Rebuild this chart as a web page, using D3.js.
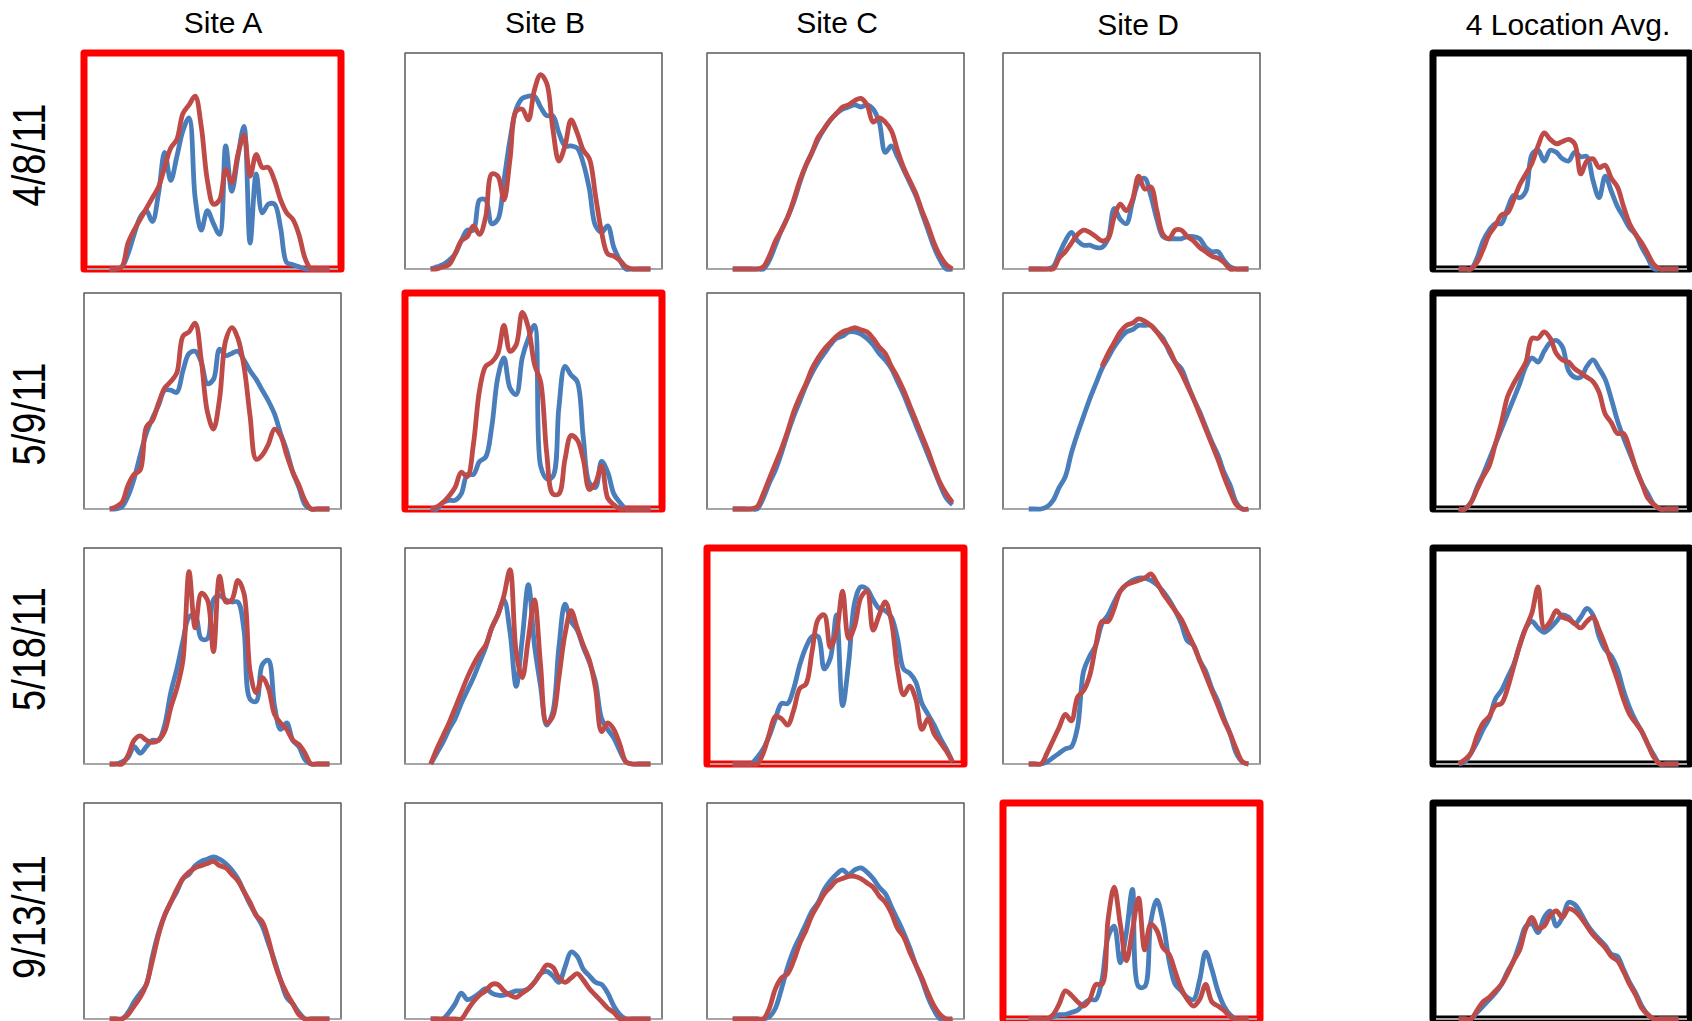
<!DOCTYPE html>
<html lang="en">
<head>
<meta charset="UTF-8" />
<title>Site comparison</title>
<style>
  body { margin: 0; background: #fff; }
  svg { display: block; font-family: "Liberation Sans", Arial, sans-serif; }
</style>
</head>
<body>
<svg width="1692" height="1021"></svg>
<script src="https://d3js.org/d3.v7.min.js"></script>
<script>
// labels
const sites = ["Site A", "Site B", "Site C", "Site D", "4 Location Avg."];
const dates = ["4/8/11", "5/9/11", "5/18/11", "9/13/11"];
const highlighted = ["Site A", "Site B", "Site C", "Site D"]; // one per date

// 37 time slots per day, values in % of panel height (blue = series 1, red = series 2)
const A_0408_blue = [0,0,1,7,16,24,27,22,35,54,41,52,64,70,33,18,27,21,16,57,36,52,66,12,44,26,30,30,19,3,2,1,0,0,0,0,0];
const A_0408_red  = [0,0,1,12,18,23,28,33,38,47,56,60,72,76,80,66,41,30,32,46,40,53,62,43,53,47,47,41,32,26,23,16,5,0,0,0,0];
const B_0408_blue = [0,1,2,4,7,13,18,18,32,32,21,23,41,60,74,79,80,80,75,71,71,63,57,57,56,49,37,20,17,20,10,4,0,0,0,0,0];
const B_0408_red  = [0,0,1,2,7,13,15,20,16,24,44,43,32,51,73,74,69,83,90,86,65,50,57,69,63,55,51,34,17,7,6,4,1,0,0,0,0];
const C_0408_blue = [0,0,0,0,0,0,4,11,18,24,31,40,48,54,60,65,69,72,74,75,76,75,76,74,68,54,57,52,46,40,34,26,18,10,4,0,0];
const C_0408_red  = [0,0,0,0,0,1,6,13,18,24,32,41,48,54,61,65,69,72,75,76,78,79,76,68,70,68,64,55,47,41,35,27,20,12,6,2,0];
const D_0408_blue = [0,0,0,0,1,7,13,17,13,11,11,10,10,14,28,23,21,31,40,42,34,23,15,14,14,14,15,15,14,10,8,8,4,1,0,0,0];
const D_0408_red  = [0,0,0,0,0,5,8,12,16,18,17,15,13,14,24,30,27,32,43,37,38,27,16,14,18,18,15,13,10,8,6,5,3,0,0,0,0];
const Avg_0408_blue = [0,0,0,5,13,18,21,21,28,34,33,36,53,55,50,55,54,51,50,54,52,52,41,33,43,36,29,24,19,16,10,5,0,0,0,0,0];
const Avg_0408_red  = [0,0,0,3,9,16,20,25,26,32,39,44,49,57,63,60,58,59,60,58,44,50,51,47,48,42,38,29,21,16,12,7,2,0,0,0,0];

const A_0509_blue = [0,0,1,6,14,25,35,42,48,55,55,54,64,72,73,68,58,60,74,71,72,73,69,64,60,55,50,44,35,27,17,10,2,0,0,0,0];
const A_0509_red  = [0,1,3,11,16,18,38,41,49,56,59,63,80,82,86,69,45,37,51,78,84,79,66,43,23,25,30,37,34,25,17,11,4,0,0,0,0];
const B_0509_blue = [0,0,3,4,4,7,16,16,22,24,38,61,70,56,53,70,79,85,20,14,15,47,66,62,59,33,12,10,22,17,7,3,0,0,0,0,0];
const B_0509_red  = [0,1,3,6,10,17,15,30,55,66,68,72,85,73,76,91,84,67,59,26,7,7,23,34,32,23,9,12,20,5,2,0,0,0,0,0,0];
const C_0509_blue = [0,0,0,0,0,5,12,18,26,35,43,50,57,63,68,72,76,79,80,82,82,81,79,76,72,69,65,59,53,46,39,32,25,18,11,5,2];
const C_0509_red  = [0,0,0,0,1,7,14,21,28,36,45,52,58,65,70,74,77,80,82,83,84,83,82,79,75,72,66,61,55,48,41,34,27,19,12,7,3];
const D_0509_blue = [0,0,0,1,4,10,15,26,35,43,51,58,65,70,75,79,82,83,85,85,85,82,79,73,68,65,58,51,45,38,31,25,17,11,3,0,0];
const D_0509_red  = [null,null,null,null,null,null,null,null,null,null,null,null,66,72,77,82,85,86,88,87,85,82,78,74,68,63,57,51,44,37,30,23,15,8,2,0,0];
const Avg_0509_blue = [0,0,3,10,16,23,30,37,44,51,58,66,70,68,73,77,78,75,64,61,61,66,69,65,60,51,41,33,26,19,12,7,2,0,0,0,0];
const Avg_0509_red  = [0,0,3,9,15,20,30,40,52,58,63,68,79,79,82,79,72,69,68,65,63,61,59,54,44,40,35,35,28,19,12,5,2,0,0,0,0];

const A_0518_blue = [0,0,1,3,8,5,8,11,11,18,33,44,57,68,69,58,58,76,78,76,75,75,62,30,29,46,48,27,16,19,11,8,2,0,0,0,0];
const A_0518_red  = [0,0,0,4,11,13,11,10,11,15,26,35,48,89,63,79,76,52,87,75,76,85,79,43,33,40,35,23,19,16,11,9,5,0,0,0,0];
const B_0518_blue = [0,5,10,16,21,28,34,40,47,54,63,69,76,61,36,58,83,55,36,18,24,54,74,66,62,54,47,38,21,16,12,6,1,0,0,0,0];
const B_0518_red  = [0,7,13,19,26,33,40,46,51,55,63,69,78,90,52,40,58,76,46,19,22,40,60,71,63,55,48,35,15,19,16,9,1,0,0,0,0];
const C_0518_blue = [0,0,0,0,3,7,13,21,28,28,35,46,54,59,59,44,49,69,27,47,75,82,81,76,72,71,68,58,44,42,38,28,23,18,12,7,1];
const C_0518_red  = [0,0,0,0,0,5,14,22,21,18,25,35,37,52,67,69,54,61,80,58,64,77,80,62,69,75,66,44,32,36,30,16,21,14,10,6,1];
const D_0518_blue = [0,0,0,1,3,5,7,8,17,43,50,55,65,69,75,80,83,85,86,86,85,83,80,76,71,65,57,55,48,43,35,29,21,14,5,1,0];
const D_0518_red  = [0,0,0,5,11,17,23,20,31,34,41,55,66,66,72,80,83,84,85,86,88,84,79,75,71,67,61,55,48,41,34,27,20,14,7,1,0];
const Avg_0518_blue = [0,1,5,10,16,21,30,34,40,46,55,63,66,63,61,63,66,69,68,65,68,72,69,59,53,50,44,34,26,20,15,9,4,0,0,0,0];
const Avg_0518_red  = [0,2,5,13,19,22,27,28,35,45,55,63,70,82,63,66,71,68,67,65,63,66,68,62,55,47,39,30,23,19,15,9,3,0,0,0,0];

const A_0913_blue = [0,0,0,3,8,12,16,29,40,48,54,59,65,67,71,73,74,75,74,72,69,65,59,53,48,43,35,27,18,10,7,3,0,0,0,0,0];
const A_0913_red  = [0,0,0,2,6,10,16,27,39,48,54,60,65,68,70,71,72,73,71,70,67,64,59,54,48,45,37,26,18,12,7,2,0,0,0,0,0];
const B_0913_blue = [0,0,0,3,7,12,9,10,12,14,12,11,11,12,13,13,14,17,21,22,20,17,24,31,29,23,20,17,16,12,6,2,0,0,0,0,0];
const B_0913_red  = [0,0,0,0,0,0,4,8,11,13,16,16,13,11,10,12,14,17,21,25,24,19,17,19,21,18,14,11,8,5,3,0,0,0,0,0,0];
const C_0913_blue = [0,0,0,0,0,0,1,5,14,24,32,38,44,50,54,60,64,67,69,67,69,70,68,65,61,58,52,46,40,33,25,18,10,4,0,0,0];
const C_0913_red  = [0,0,0,0,0,0,5,14,19,21,27,35,41,48,53,58,61,64,65,66,66,65,63,61,57,54,49,42,38,31,25,19,12,6,2,0,0];
const D_0913_blue = [0,0,0,0,1,2,2,3,4,7,9,9,18,38,43,26,40,60,15,15,45,55,45,27,16,13,10,9,18,31,23,13,6,2,0,0,0];
const D_0913_red  = [0,0,0,0,2,7,13,11,8,6,9,16,16,46,61,44,27,41,56,32,44,41,33,30,22,14,9,6,9,16,8,6,4,1,0,0,0];
const Avg_0913_blue = [0,0,0,3,6,9,12,16,22,27,35,43,44,40,47,50,43,47,54,53,49,44,40,37,34,30,29,23,17,12,6,2,0,0,0,0,0];
const Avg_0913_red  = [0,0,0,4,8,10,13,16,21,27,32,42,47,42,43,48,50,47,51,50,47,43,39,36,33,29,27,22,16,11,5,2,0,0,0,0,0];

const grid = [
  [[A_0408_blue, A_0408_red], [B_0408_blue, B_0408_red], [C_0408_blue, C_0408_red], [D_0408_blue, D_0408_red], [Avg_0408_blue, Avg_0408_red]],
  [[A_0509_blue, A_0509_red], [B_0509_blue, B_0509_red], [C_0509_blue, C_0509_red], [D_0509_blue, D_0509_red], [Avg_0509_blue, Avg_0509_red]],
  [[A_0518_blue, A_0518_red], [B_0518_blue, B_0518_red], [C_0518_blue, C_0518_red], [D_0518_blue, D_0518_red], [Avg_0518_blue, Avg_0518_red]],
  [[A_0913_blue, A_0913_red], [B_0913_blue, B_0913_red], [C_0913_blue, C_0913_red], [D_0913_blue, D_0913_red], [Avg_0913_blue, Avg_0913_red]]
];

// layout
const w = 257, h = 216;
const colX = [84, 405, 707, 1003, 1433];
const rowY = [53, 293, 548, 803];
const headX = [223, 545, 837, 1138, 1568];
const headY = [33, 33, 33, 35, 35];
const labelY = [155, 414, 649, 917];
const blue = "#4a7ebb", red = "#be4b48";

const svg = d3.select("svg");

// column headers
svg.selectAll(".site")
  .data(sites)
  .enter()
  .append("text")
  .attr("class", "site")
  .attr("x", (d, i) => headX[i])
  .attr("y", (d, i) => headY[i])
  .attr("text-anchor", "middle")
  .attr("font-size", 30)
  .text((d) => d);

// row labels (glyphs a bit taller than normal in the original)
svg.selectAll(".date")
  .data(dates)
  .enter()
  .append("text")
  .attr("class", "date")
  .attr("transform", (d, i) => `translate(45,${labelY[i]}) rotate(-90) scale(1,1.2)`)
  .attr("text-anchor", "middle")
  .attr("font-size", 38)
  .text((d) => d);

const x = d3.scaleLinear().domain([0, 36]).range([0.1 * w, 0.955 * w]);
const y = d3.scaleLinear().domain([0, 100]).range([h, 0]);

const line = d3
  .line()
  .defined((d) => d != null)
  .x((d, i) => x(i))
  .y((d) => y(d))
  .curve(d3.curveCatmullRom.alpha(0.5));

grid.forEach((row, r) => {
  row.forEach((pair, c) => {
    const g = svg.append("g").attr("transform", `translate(${colX[c]},${rowY[r]})`);
    const isAvg = c === 4;
    const isHi = highlighted[r] === sites[c];

    g.append("rect")
      .attr("width", w)
      .attr("height", h)
      .attr("fill", "none")
      .attr("stroke-linejoin", "round")
      .attr("stroke", isAvg ? "#000" : isHi ? "#ff0000" : "#595959")
      .attr("stroke-width", isAvg || isHi ? 7 : 1.5);

    // x axis line
    g.append("line")
      .attr("x1", isAvg || isHi ? 3 : 0)
      .attr("x2", isAvg || isHi ? w - 3 : w)
      .attr("y1", h)
      .attr("y2", h)
      .attr("stroke", "#a6a6a6")
      .attr("stroke-width", 2);

    g.append("path")
      .attr("d", line(pair[0]))
      .attr("fill", "none")
      .attr("stroke", blue)
      .attr("stroke-width", 4.8)
      .attr("stroke-linejoin", "round");

    g.append("path")
      .attr("d", line(pair[1]))
      .attr("fill", "none")
      .attr("stroke", red)
      .attr("stroke-width", 4.8)
      .attr("stroke-linejoin", "round");
  });
});
</script>
</body>
</html>
